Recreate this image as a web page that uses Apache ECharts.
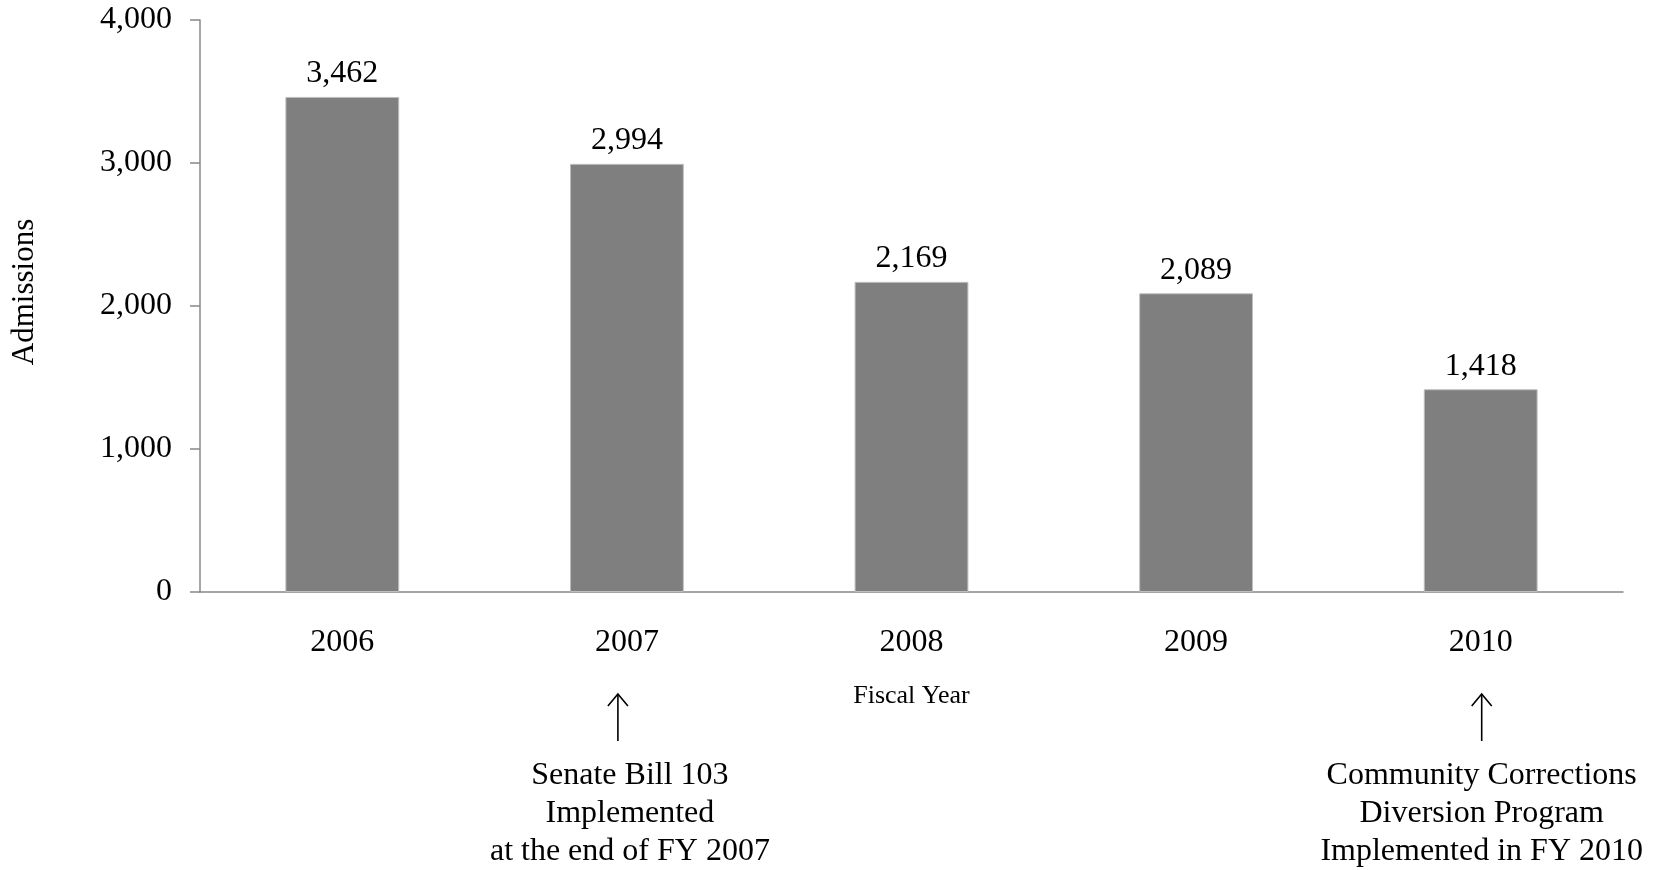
<!DOCTYPE html>
<html>
<head>
<meta charset="utf-8">
<script src="https://cdn.jsdelivr.net/npm/echarts@6/dist/echarts.min.js"></script>
<style>
html,body{margin:0;padding:0;background:#fff;}
#main{width:1663px;height:870px;}
</style>
</head>
<body>
<div id="main"></div>
<script>
const categories = ['2006', '2007', '2008', '2009', '2010'];
const admissions = [3462, 2994, 2169, 2089, 1418];
const yTicks = [0, 1000, 2000, 3000, 4000];
const yAxisTitle = 'Admissions';
const xAxisTitle = 'Fiscal Year';
const annotations = [
  { category: '2007', lines: ['Senate Bill 103', 'Implemented', 'at the end of FY 2007'], arrowDx: -9, textDx: 3 },
  { category: '2010', lines: ['Community Corrections', 'Diversion Program', 'Implemented in FY 2010'], arrowDx: 1, textDx: 1 }
];

const FONT = '"Liberation Serif", "Times New Roman", serif';
const chart = echarts.init(document.getElementById('main'), null, { renderer: 'canvas' });

const fmt = v => v.toLocaleString('en-US');

chart.setOption({
  animation: false,
  backgroundColor: '#ffffff',
  grid: { left: 200, right: 40, top: 20, bottom: 278, containLabel: false },
  xAxis: {
    type: 'category',
    data: categories,
    axisLine: { show: true, lineStyle: { color: '#888888', width: 1.5 } },
    axisTick: { show: false },
    axisLabel: { margin: 35, color: '#000', fontFamily: FONT, fontSize: 32 },
    name: xAxisTitle,
    nameLocation: 'middle',
    nameGap: 91,
    nameTextStyle: { color: '#000', fontFamily: FONT, fontSize: 26 }
  },
  yAxis: {
    type: 'value',
    min: yTicks[0],
    max: yTicks[yTicks.length - 1],
    interval: yTicks[1] - yTicks[0],
    axisLine: { show: true, lineStyle: { color: '#888888', width: 1.5 } },
    axisTick: { show: true, length: 10, inside: false, lineStyle: { color: '#888888', width: 1.5 } },
    splitLine: { show: false },
    axisLabel: { margin: 28, color: '#000', fontFamily: FONT, fontSize: 32, padding: [5, 0, 0, 0], formatter: v => fmt(v) }
  },
  series: [{
    type: 'bar',
    data: admissions,
    barWidth: '40%',
    itemStyle: { color: '#7f7f7f', borderColor: '#bfbfbf', borderWidth: 1 },
    label: {
      show: true,
      position: 'top',
      distance: 7,
      color: '#000',
      fontFamily: FONT,
      fontSize: 32,
      formatter: p => fmt(p.value)
    }
  }]
});

const graphics = [{
  type: 'text',
  x: 25,
  y: 292,
  rotation: Math.PI / 2,
  style: {
    text: yAxisTitle,
    fill: '#000',
    font: '31px ' + FONT,
    align: 'center',
    verticalAlign: 'middle'
  }
}];

annotations.forEach(a => {
  const cx = chart.convertToPixel({ xAxisIndex: 0 }, a.category);
  const ax = cx + a.arrowDx;
  graphics.push({
    type: 'line',
    shape: { x1: ax, y1: 694, x2: ax, y2: 741 },
    style: { stroke: '#000', lineWidth: 1.6 }
  });
  graphics.push({
    type: 'polyline',
    shape: { points: [[ax - 10, 706], [ax, 694], [ax + 10, 706]] },
    style: { stroke: '#000', lineWidth: 1.6, fill: null }
  });
  graphics.push({
    type: 'text',
    x: cx + a.textDx,
    y: 757,
    style: {
      text: a.lines.join('\n'),
      fill: '#000',
      font: '32px ' + FONT,
      lineHeight: 38,
      align: 'center',
      verticalAlign: 'top'
    }
  });
});

chart.setOption({ graphic: graphics });
</script>
</body>
</html>
